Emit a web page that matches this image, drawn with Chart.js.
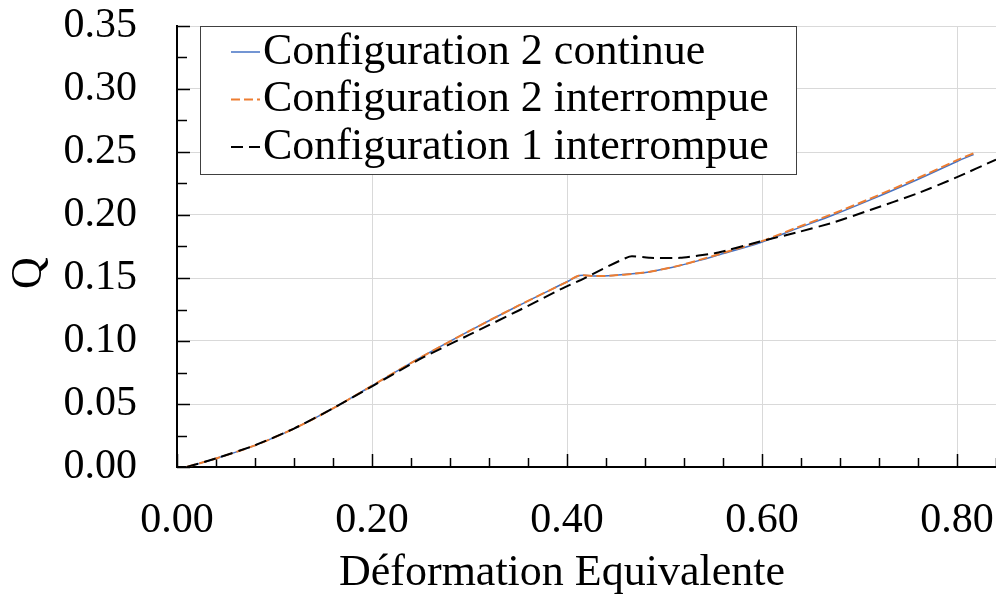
<!DOCTYPE html>
<html>
<head>
<meta charset="utf-8">
<title>Q - Déformation Equivalente</title>
<script src="https://cdn.jsdelivr.net/npm/chart.js@4.4.1/dist/chart.umd.min.js"></script>
<style>
  html, body { margin: 0; padding: 0; background: #fff; }
  canvas { display: block; }
</style>
</head>
<body>
<canvas id="graficaQ" width="996" height="594"></canvas>
<script>
// ====================================================================
// Q en fonction de la déformation équivalente (3 configurations)
// ====================================================================

// Configuration 2 : essais continu et interrompu
const defConfig2 = [0.010, 0.040, 0.080, 0.120, 0.160, 0.200, 0.250, 0.300, 0.350, 0.400, 0.413, 0.430, 0.447, 0.470, 0.485, 0.516, 0.535, 0.554, 0.598, 0.635, 0.673, 0.711, 0.759, 0.800, 0.817];
const qConfig2Continue = [0.000, 0.0068, 0.0172, 0.0305, 0.0465, 0.0645, 0.087, 0.108, 0.128, 0.147, 0.152, 0.1515, 0.152, 0.1535, 0.155, 0.160, 0.1638, 0.168, 0.178, 0.189, 0.200, 0.212, 0.228, 0.2425, 0.248];
const qConfig2Interrompue = [0.000, 0.0068, 0.0172, 0.0305, 0.0465, 0.0645, 0.087, 0.108, 0.128, 0.147, 0.152, 0.1515, 0.152, 0.1535, 0.155, 0.160, 0.1642, 0.1685, 0.1788, 0.1898, 0.201, 0.213, 0.229, 0.2435, 0.249];

// Configuration 1 : essai interrompu
const defConfig1 = [0.010, 0.040, 0.080, 0.120, 0.160, 0.200, 0.250, 0.300, 0.350, 0.396, 0.413, 0.464, 0.485, 0.516, 0.554, 0.598, 0.635, 0.673, 0.711, 0.759, 0.800, 0.840];
const qConfig1Interrompue = [0.000, 0.0068, 0.0172, 0.0305, 0.0465, 0.064, 0.086, 0.105, 0.124, 0.142, 0.148, 0.167, 0.166, 0.166, 0.170, 0.179, 0.186, 0.194, 0.204, 0.217, 0.230, 0.244];

// Graduations principales
const ticksX = [0, 0.2, 0.4, 0.6, 0.8];
const ticksY = [0, 0.05, 0.10, 0.15, 0.20, 0.25, 0.30, 0.35];

const POLICE = "'Liberation Serif', 'Times New Roman', serif";

function aPoints(xs, ys) {
    return xs.map((x, i) => ({ x: x, y: ys[i] }));
}

// Petites graduations tournées vers l'intérieur
const graduationsInternes = {
    id: 'graduationsInternes',
    beforeDatasetsDraw(chart) {
        const { ctx, chartArea: a, scales: { x, y } } = chart;
        ctx.save();
        ctx.strokeStyle = '#000';
        ctx.lineWidth = 1.5;
        for (let k = 0; k * 0.04 <= x.max + 1e-9; k++) {
            const px = Math.round(x.getPixelForValue(k * 0.04)) + 0.5;
            const len = k % 5 === 0 ? 13 : 9;
            ctx.beginPath();
            ctx.moveTo(px, a.bottom);
            ctx.lineTo(px, a.bottom - len);
            ctx.stroke();
        }
        for (let k = 0; k * 0.025 <= y.max + 1e-9; k++) {
            const py = Math.round(y.getPixelForValue(k * 0.025)) + 0.5;
            const len = k % 2 === 0 ? 13 : 10;
            ctx.beginPath();
            ctx.moveTo(a.left, py);
            ctx.lineTo(a.left + len, py);
            ctx.stroke();
        }
        ctx.restore();
    }
};

// Titres des axes
const titresAxes = {
    id: 'titresAxes',
    afterDraw(chart) {
        const { ctx, chartArea: a } = chart;
        ctx.save();
        ctx.fillStyle = '#000';
        ctx.font = '44px ' + POLICE;
        ctx.textAlign = 'center';
        ctx.textBaseline = 'alphabetic';
        ctx.fillText('Déformation Equivalente', a.left + 385, 585);
        ctx.translate(41, 273);
        ctx.rotate(-Math.PI / 2);
        ctx.fillText('Q', 0, 0);
        ctx.restore();
    }
};

// Légende encadrée dans la zone de tracé
const legendeInterne = {
    id: 'legendeInterne',
    afterDraw(chart) {
        const { ctx, chartArea: a } = chart;
        const left = a.left + 23, top = a.top, w = 596, h = 148;
        ctx.save();
        ctx.fillStyle = '#fff';
        ctx.fillRect(left, top, w, h);
        ctx.strokeStyle = '#404040';
        ctx.lineWidth = 1;
        ctx.strokeRect(left + 0.5, top + 0.5, w, h);
        ctx.font = '44px ' + POLICE;
        ctx.textAlign = 'left';
        ctx.textBaseline = 'middle';
        chart.data.datasets.forEach((ds, i) => {
            const yRow = top + 26 + i * 47.5;
            ctx.strokeStyle = ds.borderColor;
            ctx.lineWidth = ds.borderWidth;
            ctx.setLineDash(ds.borderDash || []);
            ctx.beginPath();
            ctx.moveTo(left + 31, yRow);
            ctx.lineTo(left + 60, yRow);
            ctx.stroke();
            ctx.setLineDash([]);
            ctx.fillStyle = '#000';
            ctx.fillText(ds.label, left + 63, yRow);
        });
        ctx.restore();
    }
};

const ctx = document.getElementById('graficaQ').getContext('2d');

new Chart(ctx, {
    type: 'line',
    data: {
        datasets: [{
            label: 'Configuration 2 continue',
            data: aPoints(defConfig2, qConfig2Continue),
            borderColor: '#4472C4',
            borderWidth: 1.5,
            pointRadius: 0,
            tension: 0.3,
            order: 3
        }, {
            label: 'Configuration 2 interrompue',
            data: aPoints(defConfig2, qConfig2Interrompue),
            borderColor: '#ED7D31',
            borderWidth: 2,
            borderDash: [9, 4],
            pointRadius: 0,
            tension: 0.3,
            order: 2
        }, {
            label: 'Configuration 1 interrompue',
            data: aPoints(defConfig1, qConfig1Interrompue),
            borderColor: '#000000',
            borderWidth: 2,
            borderDash: [12, 6],
            pointRadius: 0,
            tension: 0.15,
            order: 1
        }]
    },
    options: {
        responsive: false,
        animation: false,
        layout: { padding: { top: 26, right: 0, bottom: 0, left: 0 } },
        plugins: {
            legend: { display: false },
            tooltip: { enabled: false }
        },
        scales: {
            x: {
                type: 'linear',
                min: 0,
                max: 0.84,
                afterBuildTicks: s => { s.ticks = ticksX.map(v => ({ value: v })); },
                afterFit: s => { s.height = 127; },
                ticks: {
                    color: '#000',
                    padding: 0,
                    maxRotation: 0,
                    autoSkip: false,
                    font: { family: POLICE, size: 42 },
                    callback: v => v.toFixed(2)
                },
                grid: {
                    color: ctx => ctx.tick && ctx.tick.value === 0 ? 'rgba(0,0,0,0)' : '#d9d9d9',
                    lineWidth: 1,
                    drawTicks: true,
                    tickLength: 29,
                    tickColor: 'rgba(0,0,0,0)'
                },
                border: { color: '#000', width: 2 }
            },
            y: {
                min: 0,
                max: 0.35,
                afterBuildTicks: s => { s.ticks = ticksY.map(v => ({ value: v })); },
                afterFit: s => { s.width = 177; },
                ticks: {
                    color: '#000',
                    padding: 0,
                    font: { family: POLICE, size: 42 },
                    callback: v => v.toFixed(2)
                },
                grid: {
                    color: ctx => ctx.tick && ctx.tick.value === 0 ? 'rgba(0,0,0,0)' : '#d9d9d9',
                    lineWidth: 1,
                    drawTicks: true,
                    tickLength: 40,
                    tickColor: 'rgba(0,0,0,0)'
                },
                border: { color: '#000', width: 2 }
            }
        }
    },
    plugins: [graduationsInternes, titresAxes, legendeInterne]
});
</script>
</body>
</html>
